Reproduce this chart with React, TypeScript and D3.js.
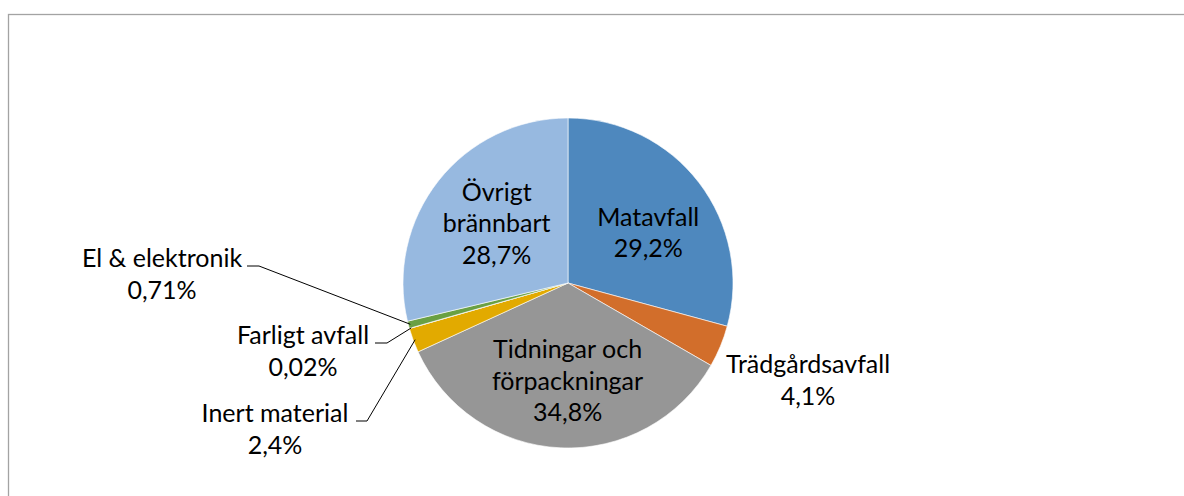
import React from 'react';
import * as d3 from 'd3';

const categories = ['Matavfall', 'Trädgårdsavfall', 'Tidningar och förpackningar', 'Inert material', 'Farligt avfall', 'El & elektronik', 'Övrigt brännbart'];
const shares = [29.2, 4.1, 34.8, 2.4, 0.02, 0.71, 28.7];
const shareLabels = ['29,2%', '4,1%', '34,8%', '2,4%', '0,02%', '0,71%', '28,7%'];
const colors = ['#4e88be', '#d26e2b', '#969696', '#e2aa00', '#c0504d', '#6aa043', '#97b9e0'];

const W = 1184;
const H = 496;
const cx = 568;
const cy = 283;
const R = 165;
const FONT = 'Lato, "Liberation Sans", sans-serif';
const FS = 25;
const LH = 31.5;

// name lines for inside labels, with a small nudge off the centroid
const insideLines: Record<string, { lines: string[]; dx: number; dy: number }> = {
    'Matavfall': { lines: ['Matavfall'], dx: 4, dy: 8 },
    'Tidningar och förpackningar': { lines: ['Tidningar och', 'förpackningar'], dx: 4, dy: 2 },
    'Övrigt brännbart': { lines: ['Övrigt', 'brännbart'], dx: 4, dy: 0 },
};

// outside labels: text center x, first baseline, leader elbow x range
const outside: Record<string, { x: number; y: number; leader?: [number, number] }> = {
    'Trädgårdsavfall': { x: 808, y: 373 },
    'El & elektronik': { x: 162, y: 267, leader: [247, 259] },
    'Farligt avfall': { x: 303, y: 344, leader: [375, 387] },
    'Inert material': { x: 275, y: 422, leader: [356, 367] },
};

const App = () => {
    const data = categories.map((c, i) => ({ name: c, value: shares[i], label: shareLabels[i], color: colors[i] }));
    const pie = d3.pie<any>().sort(null).value(d => d.value);
    const arcs = pie(data);
    const arc = d3.arc<any>().innerRadius(0).outerRadius(R);
    const labelArc = d3.arc<any>().innerRadius(96).outerRadius(96);
    const edgeArc = d3.arc<any>().innerRadius(R - 2).outerRadius(R - 2);

    return (
        <svg width={W} height={H} style={{ position: 'absolute', left: 0, top: 0, display: 'block', background: '#fff' }}>
            <rect x={8.5} y={14.5} width={W} height={H} fill="#fff" stroke="#a3a3a3" strokeWidth={1.3} />
            <g transform={`translate(${cx},${cy})`}>
                {arcs.map((a, i) => (
                    <path key={i} d={arc(a) as string} fill={a.data.color} stroke="#fff" strokeWidth={0.6} />
                ))}
            </g>
            {arcs.map((a, i) => {
                const name = a.data.name;
                const inside = insideLines[name];
                if (inside) {
                    const [lx, ly] = labelArc.centroid(a);
                    const lines = [...inside.lines, a.data.label];
                    const top = cy + ly + inside.dy - ((lines.length - 1) * LH) / 2 + FS * 0.35;
                    return (
                        <text key={'t' + i} textAnchor="middle" fontFamily={FONT} fontSize={FS} fill="#000">
                            {lines.map((l, j) => (
                                <tspan key={j} x={cx + lx + inside.dx} y={top + j * LH}>{l}</tspan>
                            ))}
                        </text>
                    );
                }
                const o = outside[name];
                const [ex, ey] = edgeArc.centroid(a);
                const ly = o.y - 1;
                return (
                    <g key={'t' + i}>
                        {o.leader && (
                            <polyline
                                points={`${o.leader[0]},${ly} ${o.leader[1]},${ly} ${cx + ex},${cy + ey}`}
                                fill="none" stroke="#000" strokeWidth={1}
                            />
                        )}
                        <text textAnchor="middle" fontFamily={FONT} fontSize={FS} fill="#000">
                            <tspan x={o.x} y={o.y}>{name}</tspan>
                            <tspan x={o.x} y={o.y + LH}>{a.data.label}</tspan>
                        </text>
                    </g>
                );
            })}
        </svg>
    );
};

export default App;
